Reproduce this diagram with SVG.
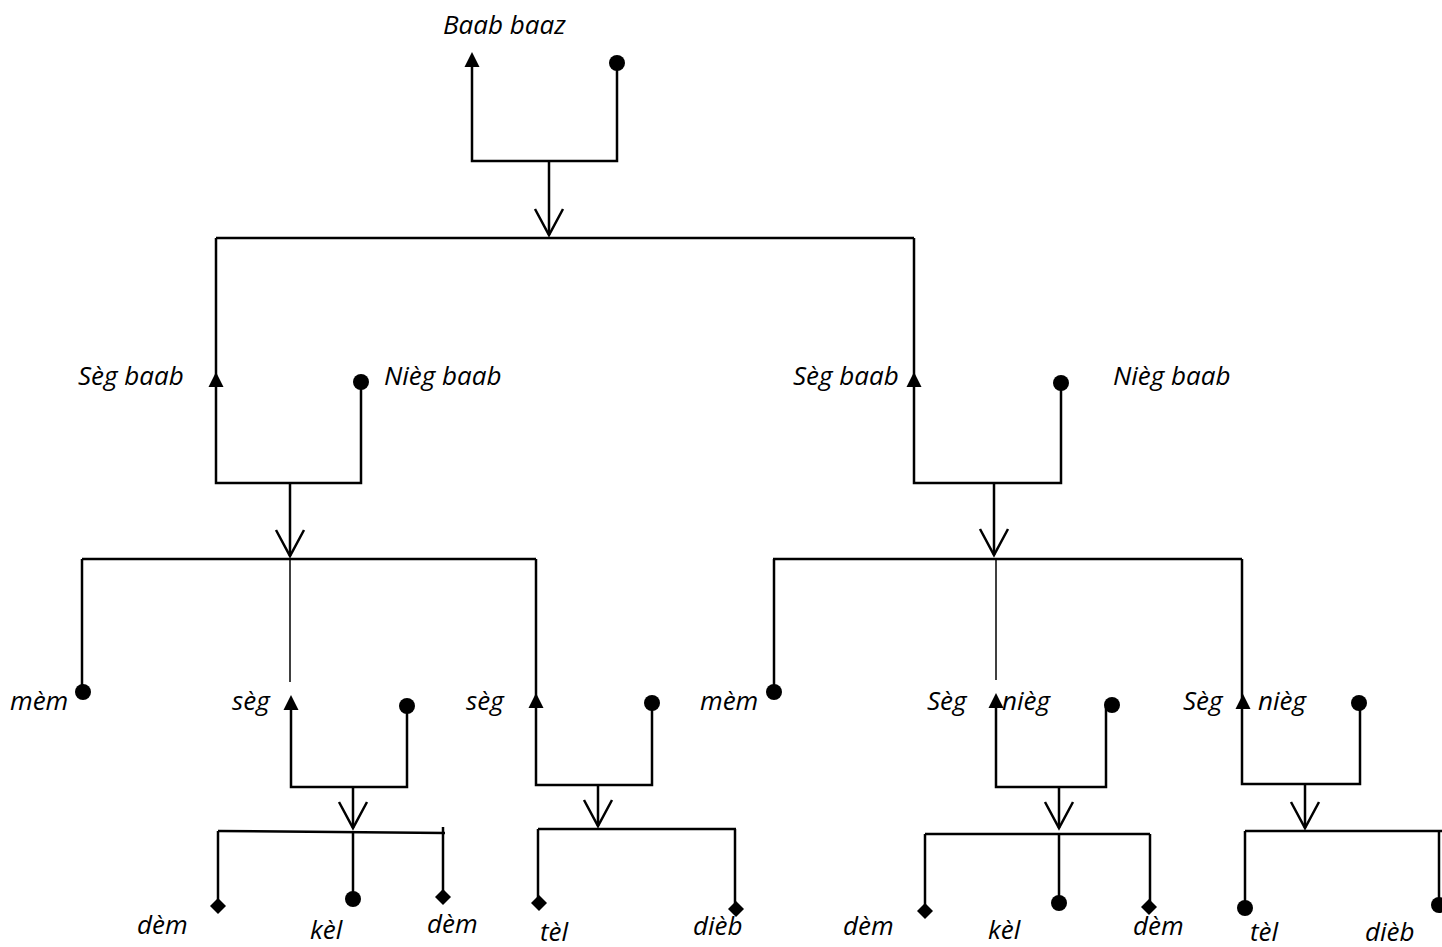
<svg xmlns="http://www.w3.org/2000/svg" xmlns:xlink="http://www.w3.org/1999/xlink" width="1442" height="947" viewBox="0 0 1442 947">
<style>
.ln{fill:none;stroke:#000;stroke-width:2.5;stroke-linecap:butt;stroke-linejoin:miter}
.thin{fill:none;stroke:#000;stroke-width:1.5}
.vee{fill:none;stroke:#000;stroke-width:2.5;stroke-linejoin:miter}
.lbl{font-family:"Open Sans","Noto Sans","Liberation Sans",sans-serif;font-style:italic;font-size:26px;fill:#000}
</style>
<defs>
<path id="tri" d="M0,0 L7.5,15 L-7.5,15 Z" fill="#000"/>
<circle id="dot" r="8" fill="#000"/>
<path id="dia" d="M0,-8 L8,0 L0,8 L-8,0 Z" fill="#000"/>
<path id="vee" d="M-14,-26 L0,0 L14,-26" class="vee"/>
</defs>
<rect width="1442" height="947" fill="#fff"/>
<g id="connectors">
<path class="ln" d="M472,60 V161 H617 V63"/>
<path class="ln" d="M549,161 V235"/>
<use xlink:href="#vee" x="549" y="235"/>
<path class="ln" d="M216,238 H914"/>
<path class="ln" d="M216,238 V483 H361 V382"/>
<path class="ln" d="M290,483 V556"/>
<use xlink:href="#vee" x="290" y="556"/>
<path class="ln" d="M82,559 H536"/>
<path class="ln" d="M914,238 V483 H1061 V383"/>
<path class="ln" d="M994,483 V555"/>
<use xlink:href="#vee" x="994" y="555"/>
<path class="ln" d="M773,559 H1242"/>
<path class="ln" d="M82,559 V692"/>
<path class="thin" d="M290,559 V682"/>
<path class="ln" d="M291,700 V787 H407 V706"/>
<path class="ln" d="M353,787 V828"/>
<use xlink:href="#vee" x="353" y="828"/>
<path class="ln" d="M218,831 L445,833"/>
<path class="ln" d="M536,559 V785 H652 V703"/>
<path class="ln" d="M598,785 V826"/>
<use xlink:href="#vee" x="598" y="826"/>
<path class="ln" d="M538,829 H736"/>
<path class="ln" d="M774,559 V692"/>
<path class="thin" d="M996,559 V680"/>
<path class="ln" d="M996,700 V787 H1106 V705"/>
<path class="ln" d="M1059,787 V828"/>
<use xlink:href="#vee" x="1059" y="828"/>
<path class="ln" d="M925,834 H1150"/>
<path class="ln" d="M1242,559 V784 H1360 V703"/>
<path class="ln" d="M1305,784 V828"/>
<use xlink:href="#vee" x="1305" y="828"/>
<path class="ln" d="M1245,831 H1442"/>
<path class="ln" d="M218,831 V906"/>
<path class="ln" d="M353,832 V899"/>
<path class="ln" d="M443,827 V897"/>
<path class="ln" d="M538,829 V903"/>
<path class="ln" d="M735,829 V909"/>
<path class="ln" d="M925,834 V911"/>
<path class="ln" d="M1059,834 V903"/>
<path class="ln" d="M1150,834 V907"/>
<path class="ln" d="M1245,831 V908"/>
<path class="ln" d="M1439,831 V905"/>
</g>
<g id="n-root"><use xlink:href="#tri" x="472" y="52"/><use xlink:href="#dot" x="617" y="63"/><text class="lbl" x="443" y="34">Baab baaz</text></g>
<g id="n-l-seg"><use xlink:href="#tri" x="216" y="372"/><text class="lbl" x="78" y="385">Sèg baab</text></g>
<g id="n-l-nieg"><use xlink:href="#dot" x="361" y="382"/><text class="lbl" x="384" y="385">Nièg baab</text></g>
<g id="n-r-seg"><use xlink:href="#tri" x="914" y="372"/><text class="lbl" x="793" y="385">Sèg baab</text></g>
<g id="n-r-nieg"><use xlink:href="#dot" x="1061" y="383"/><text class="lbl" x="1113" y="385">Nièg baab</text></g>
<g id="n-mem1"><use xlink:href="#dot" x="83" y="692"/><text class="lbl" x="10" y="710">mèm</text></g>
<g id="n-seg1"><use xlink:href="#tri" x="291" y="695"/><text class="lbl" x="232" y="710">sèg</text></g>
<g id="n-dot1"><use xlink:href="#dot" x="407" y="706"/></g>
<g id="n-seg2"><use xlink:href="#tri" x="536" y="693"/><text class="lbl" x="466" y="710">sèg</text></g>
<g id="n-dot2"><use xlink:href="#dot" x="652" y="703"/></g>
<g id="n-mem2"><use xlink:href="#dot" x="774" y="692"/><text class="lbl" x="700" y="710">mèm</text></g>
<g id="n-segnieg1"><use xlink:href="#tri" x="996" y="693"/><text class="lbl" x="927" y="710">Sèg</text><text class="lbl" x="1002" y="710">nièg</text></g>
<g id="n-dot3"><use xlink:href="#dot" x="1112" y="705"/></g>
<g id="n-segnieg2"><use xlink:href="#tri" x="1243" y="694"/><text class="lbl" x="1183" y="710">Sèg</text><text class="lbl" x="1258" y="710">nièg</text></g>
<g id="n-dot4"><use xlink:href="#dot" x="1359" y="703"/></g>
<g id="n-dem1"><use xlink:href="#dia" x="218" y="906"/><text class="lbl" x="137" y="934">dèm</text></g>
<g id="n-kel1"><use xlink:href="#dot" x="353" y="899"/><text class="lbl" x="310" y="939">kèl</text></g>
<g id="n-dem2"><use xlink:href="#dia" x="443" y="897"/><text class="lbl" x="427" y="933">dèm</text></g>
<g id="n-tel1"><use xlink:href="#dia" x="539" y="903"/><text class="lbl" x="540" y="941">tèl</text></g>
<g id="n-dieb1"><use xlink:href="#dia" x="736" y="909"/><text class="lbl" x="693" y="935">dièb</text></g>
<g id="n-dem3"><use xlink:href="#dia" x="925" y="911"/><text class="lbl" x="843" y="935">dèm</text></g>
<g id="n-kel2"><use xlink:href="#dot" x="1059" y="903"/><text class="lbl" x="988" y="939">kèl</text></g>
<g id="n-dem4"><use xlink:href="#dia" x="1149" y="907"/><text class="lbl" x="1133" y="935">dèm</text></g>
<g id="n-tel2"><use xlink:href="#dot" x="1245" y="908"/><text class="lbl" x="1250" y="941">tèl</text></g>
<g id="n-dieb2"><use xlink:href="#dot" x="1439" y="905"/><text class="lbl" x="1365" y="941">dièb</text></g>
</svg>
